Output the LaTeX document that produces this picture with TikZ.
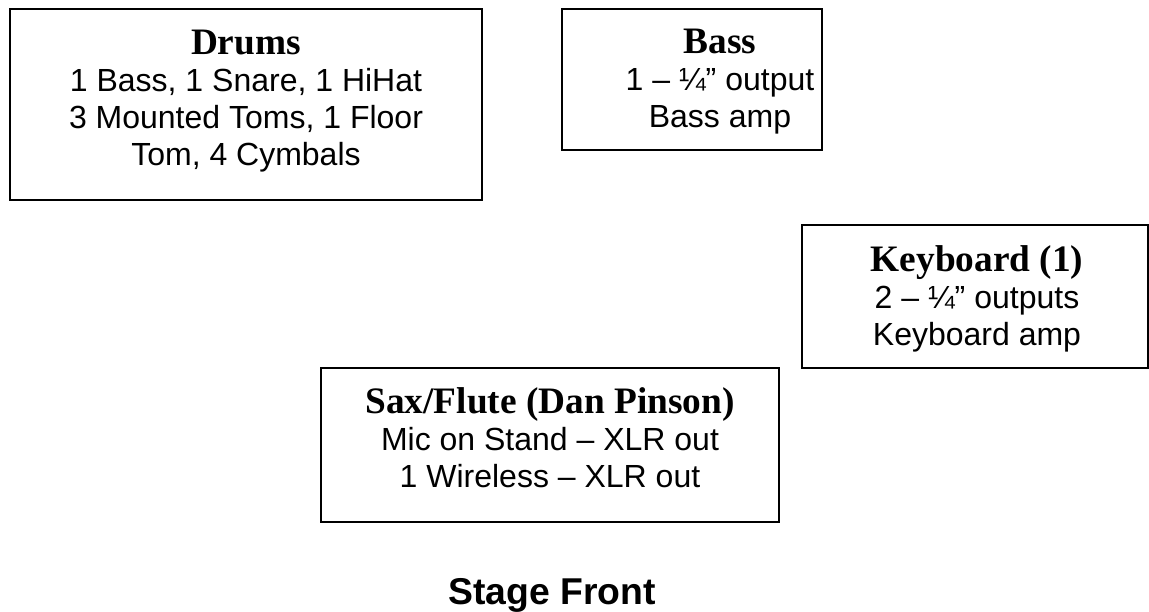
\documentclass[tikz,border=0pt]{standalone}
\usepackage{fontspec}
\setmainfont{Liberation Serif}
\setsansfont{Liberation Sans}
\usetikzlibrary{calc}

\newcommand{\boxhead}[1]{{\rmfamily\bfseries\fontsize{14}{13.9}\selectfont #1}}

\begin{document}
\begin{tikzpicture}[x=0.375pt,y=-0.375pt]
\tikzset{stagebox/.style = {shape=rectangle,draw,line width=0.75pt,inner sep=0pt}}
\tikzset{boxtext/.style = {align=center,inner sep=0pt,font=\sffamily\fontsize{12}{13.9}\selectfont}}
\useasboundingbox (0,0) rectangle (1149,612);

% the four boxes on stage
\foreach \pos/\name/\bw/\bh in {{(246,104.5)/drums/177pt/71.625pt}, {(692,79.5)/bass/97.5pt/52.875pt},
  {(975,296.5)/keys/129.75pt/53.625pt}, {(550,445)/sax/171.75pt/57.75pt}}
\node[stagebox,minimum width=\bw,minimum height=\bh] (\name) at \pos {};

\node[boxtext] (drumstext) at ($(drums.center)+(0,-3)$)
  {\boxhead{Drums}\\1 Bass, 1 Snare, 1 HiHat\\3 Mounted Toms, 1 Floor\\Tom, 4 Cymbals};
\node[boxtext] (basstext) at ($(bass.center)+(28,2.5)$)
  {\boxhead{Bass}\\1 – ¼” output\\Bass amp};
\node[boxtext] (keystext) at ($(keys.center)+(2,2)$)
  {\boxhead{Keyboard (1)}\\2 – ¼” outputs\\Keyboard amp};
\node[boxtext] (saxtext) at ($(sax.center)+(0,-7)$)
  {\boxhead{Sax/Flute (Dan Pinson)}\\Mic on Stand – XLR out\\1 Wireless – XLR out};

\node[anchor=base,inner sep=0pt,font=\sffamily\bfseries\fontsize{14}{16}\selectfont] (front) at (552,605) {Stage Front};
\end{tikzpicture}
\end{document}
